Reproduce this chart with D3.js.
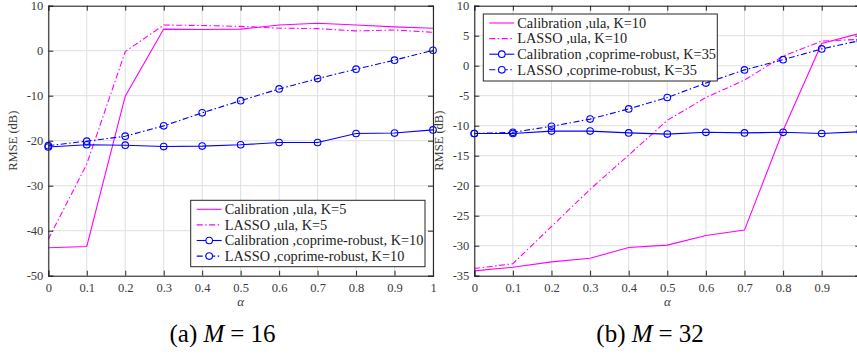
<!DOCTYPE html>
<html><head><meta charset="utf-8">
<script src="https://cdn.jsdelivr.net/npm/d3@7"></script>
<style>
html,body{margin:0;padding:0;background:#fff;overflow:hidden;}
svg{display:block;}
svg text{font-family:"Liberation Serif","Times New Roman",Times,serif !important;}
</style></head>
<body><svg id="c" width="857" height="354" font-family="Liberation Serif, Times New Roman, serif"></svg>
<script>
// ---- data ----
const alphas = [0,0.1,0.2,0.3,0.4,0.5,0.6,0.7,0.8,0.9,1];
const xTicks = [0,0.1,0.2,0.3,0.4,0.5,0.6,0.7,0.8,0.9,1];

// Panel (a) M = 16
const aCalibUla   = [-43.8,-43.5,-10.1,4.8,4.7,4.8,5.7,6.1,5.7,5.3,5.0];
const aLassoUla   = [-41.9,-25.2,-0.2,5.7,5.6,5.4,5.0,4.9,4.4,4.6,4.1];
const aCalibCop   = [-21.4,-20.9,-21.0,-21.3,-21.2,-20.9,-20.4,-20.4,-18.4,-18.3,-17.6];
const aLassoCop   = [-21.1,-20.1,-19.0,-16.7,-13.8,-11.1,-8.5,-6.2,-4.1,-2.1,0.1];
const aYTicks = [-50,-40,-30,-20,-10,0,10];
const aLegend = ["Calibration ,ula, K=5","LASSO ,ula, K=5","Calibration ,coprime-robust, K=10","LASSO ,coprime-robust, K=10"];

// Panel (b) M = 32
const bCalibUla   = [-34.2,-33.6,-32.7,-32.1,-30.3,-29.9,-28.3,-27.4,-10.8,3.7,5.4];
const bLassoUla   = [-33.8,-33.0,-26.8,-20.6,-14.9,-9.1,-5.3,-2.4,1.6,4.1,4.4];
const bCalibCop   = [-11.3,-11.3,-10.9,-10.9,-11.2,-11.4,-11.1,-11.2,-11.1,-11.3,-11.0];
const bLassoCop   = [-11.3,-11.1,-10.1,-8.9,-7.2,-5.3,-2.9,-0.7,1.0,2.8,4.2];
const bYTicks = [-35,-30,-25,-20,-15,-10,-5,0,5,10];
const bLegend = ["Calibration ,ula, K=10","LASSO ,ula, K=10","Calibration ,coprime-robust, K=35","LASSO ,coprime-robust, K=35"];

const MAG = "#ff00ff", BLUE = "#0000ff", AX = "#262626";
const DASHDOT = "6,2.5,1.5,2.5";
const FONT = "'Liberation Serif','Times New Roman',serif";

const svg = d3.select("#c");

function panel(o){
  const x = d3.scaleLinear().domain([0,1]).range([o.x0,o.x1]);
  const y = d3.scaleLinear().domain(o.ydom).range([o.y1,o.y0]);
  const g = svg.append("g");
  // grid
  g.append("g").selectAll("line").data(xTicks).join("line")
    .attr("x1",d=>x(d)).attr("x2",d=>x(d)).attr("y1",o.y0).attr("y2",o.y1)
    .attr("stroke","#dfdfdf").attr("stroke-width",1);
  g.append("g").selectAll("line").data(o.yticks).join("line")
    .attr("x1",o.x0).attr("x2",o.x1).attr("y1",d=>y(d)).attr("y2",d=>y(d))
    .attr("stroke","#dfdfdf").attr("stroke-width",1);
  // series
  const line = d3.line().x((d,i)=>x(alphas[i])).y(d=>y(d));
  o.series.forEach(s=>{
    g.append("path").datum(s.v).attr("d",line).attr("fill","none")
      .attr("stroke",s.c).attr("stroke-width",1.1)
      .attr("stroke-dasharray",s.dash?DASHDOT:null);
    if(s.m){
      g.append("g").selectAll("circle").data(s.v).join("circle")
        .attr("cx",(d,i)=>x(alphas[i])).attr("cy",d=>y(d)).attr("r",3.3)
        .attr("fill","none").attr("stroke",s.c).attr("stroke-width",1.1);
    }
  });
  // axes
  const ax = g.append("g");
  const bottom = d3.axisBottom(x).tickValues(xTicks).tickSize(-5).tickPadding(7)
    .tickFormat(d=> x(d) < 850 ? String(+d.toFixed(1)) : "");
  const top = d3.axisTop(x).tickValues(xTicks).tickSize(-5).tickFormat("");
  const left = d3.axisLeft(y).tickValues(o.yticks).tickSize(-5).tickPadding(5).tickFormat(d=>String(d));
  const right = d3.axisRight(y).tickValues(o.yticks).tickSize(-5).tickFormat("");
  [[bottom,`translate(0,${o.y1})`],[top,`translate(0,${o.y0})`],[left,`translate(${o.x0},0)`],[right,`translate(${o.x1},0)`]]
    .forEach(([a,t])=>{
      const gg = ax.append("g").attr("transform",t).call(a).attr("font-family",FONT);
      gg.select(".domain").attr("stroke",AX).attr("stroke-width",1.1);
      gg.selectAll(".tick line").attr("stroke",AX);
      gg.selectAll("text").attr("fill","#3a3a3a").attr("font-size","12.5px").attr("font-family",FONT);
    });
  // axis labels
  g.append("text").attr("x",x(0.5)).attr("y",306)
    .attr("text-anchor","middle").attr("fill","#3a3a3a").attr("font-size","13px").attr("font-style","italic")
    .attr("font-family",FONT).text("α");
  g.append("text").attr("transform",`translate(${o.x0-31},${(o.y0+o.y1)/2}) rotate(-90)`)
    .attr("text-anchor","middle").attr("fill","#3a3a3a").attr("font-size","12.5px")
    .attr("font-family",FONT).text("RMSE (dB)");
  // legend
  const L = o.legend;
  const lg = g.append("g");
  lg.append("rect").attr("x",L.x).attr("y",L.y).attr("width",L.w).attr("height",L.h)
    .attr("fill","#fff").attr("stroke",AX).attr("stroke-width",1);
  o.series.forEach((s,i)=>{
    const cy = L.y + 9 + i*15.6;
    lg.append("line").attr("x1",L.x+6).attr("x2",L.x+31).attr("y1",cy).attr("y2",cy)
      .attr("stroke",s.c).attr("stroke-width",1.1).attr("stroke-dasharray",s.dash?DASHDOT:null);
    if(s.m) lg.append("circle").attr("cx",L.x+18.5).attr("cy",cy).attr("r",3.3)
      .attr("fill","#fff").attr("stroke",s.c).attr("stroke-width",1.1);
    lg.append("text").attr("x",L.x+34).attr("y",cy+4.8).attr("fill","#222")
      .attr("font-size","14.3px").attr("font-family",FONT).text(o.labels[i]);
  });
  // caption
  const cap = g.append("text").attr("x",o.capX).attr("y",342).attr("text-anchor","middle")
    .attr("fill","#000").attr("font-size","25px").attr("font-family",FONT);
  cap.append("tspan").text(o.capA+" ");
  cap.append("tspan").attr("font-style","italic").text("M");
  cap.append("tspan").attr("dx",6).text("=");
  cap.append("tspan").attr("dx",6).text(o.capN);
}

panel({x0:48.3,x1:433,y0:5.7,y1:275.7,ydom:[-50,10],yticks:aYTicks,
  series:[{v:aCalibUla,c:MAG},{v:aLassoUla,c:MAG,dash:true},{v:aCalibCop,c:BLUE,m:true},{v:aLassoCop,c:BLUE,dash:true,m:true}],
  labels:aLegend, legend:{x:190.7,y:200.3,w:234.3,h:66.4}, capX:222.5, capA:"(a)", capN:"16"});
panel({x0:474.3,x1:860.3,y0:5.7,y1:275.7,ydom:[-35,10],yticks:bYTicks,
  series:[{v:bCalibUla,c:MAG},{v:bLassoUla,c:MAG,dash:true},{v:bCalibCop,c:BLUE,m:true},{v:bLassoCop,c:BLUE,dash:true,m:true}],
  labels:bLegend, legend:{x:483.3,y:14,w:234,h:67}, capX:650, capA:"(b)", capN:"32"});
</script></body></html>
